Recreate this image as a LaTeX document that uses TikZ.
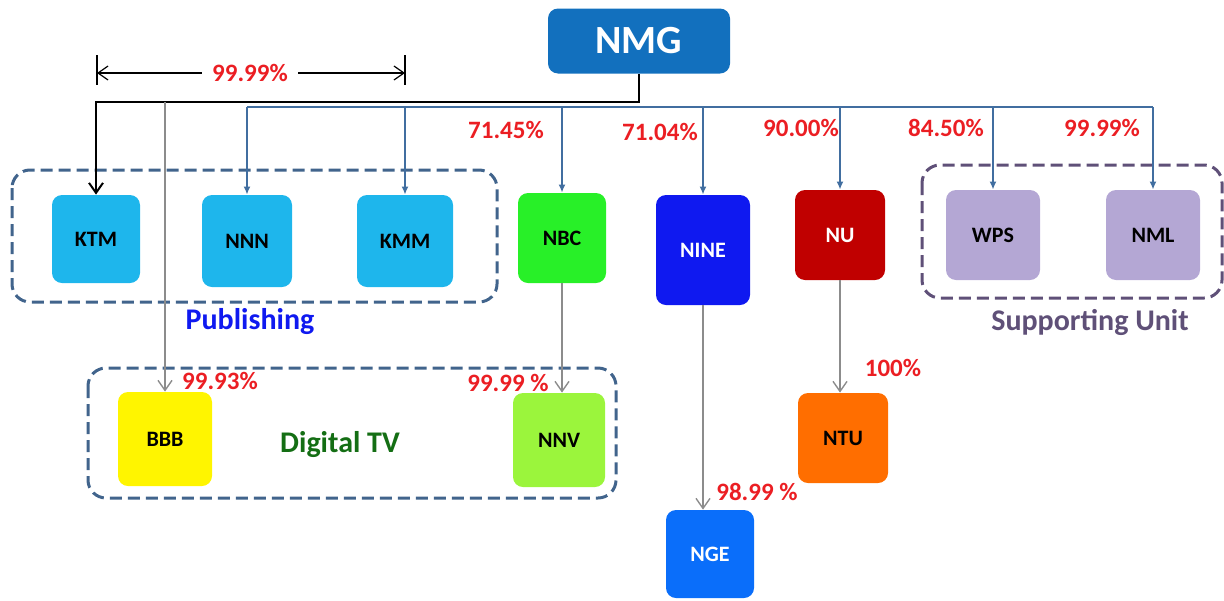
\documentclass[tikz,border=0pt]{standalone}
\usepackage{fontspec}
\setmainfont{Carlito}
\usepackage{tikz}
\usetikzlibrary{arrows.meta, calc}

\definecolor{nmgblue}{RGB}{18,112,190}
\definecolor{pubcyan}{RGB}{30,182,236}
\definecolor{nbcgreen}{RGB}{40,240,40}
\definecolor{nineblue}{RGB}{15,25,240}
\definecolor{nured}{RGB}{192,0,0}
\definecolor{lavender}{RGB}{180,167,212}
\definecolor{bbbyellow}{RGB}{255,245,0}
\definecolor{nnvgreen}{RGB}{155,245,60}
\definecolor{ngeblue}{RGB}{10,110,250}
\definecolor{ntuorange}{RGB}{255,110,0}
\definecolor{grpsteel}{RGB}{65,100,140}
\definecolor{grppurple}{RGB}{95,80,120}
\definecolor{pctred}{RGB}{235,30,35}
\definecolor{busblue}{RGB}{65,110,160}
\definecolor{linkgray}{RGB}{140,140,140}

\begin{document}
\begin{tikzpicture}[x=0.5pt, y=-0.5pt,
    unit/.style={rounded corners=5pt, inner sep=0pt, minimum width=45pt,
        minimum height=45pt, text=black, font=\fontsize{11}{11}\selectfont\bfseries},
    pct/.style={text=pctred, inner sep=0pt, font=\fontsize{12.5}{12.5}\selectfont\bfseries},
    grp/.style={draw, dashed, dash pattern=on 6pt off 3pt, line width=1.5pt, rounded corners=9pt},
    grplabel/.style={inner sep=0pt, font=\fontsize{15}{15}\selectfont\bfseries},
    blkarr/.style={draw=black, line width=1pt, -{Straight Barb[length=5pt, width=7pt]}},
    bluearr/.style={draw=busblue, line width=0.8pt, -{Latex[length=4pt, width=3.5pt]}},
    grayarr/.style={draw=linkgray, line width=0.7pt, -{Straight Barb[length=5pt, width=7pt]}},
    dimarr/.style={draw=black, line width=0.6pt, -{Straight Barb[length=5pt, width=7pt]}}]

    \useasboundingbox (0,0) rectangle (1224,600);

    % -------------------------------------------------------
    % 1. Group frames
    % -------------------------------------------------------
    \draw[grp, grpsteel] (12,170) rectangle (497,302);
    \draw[grp, grpsteel] (88,368) rectangle (616,498);
    \draw[grp, grppurple] (922,165) rectangle (1222,298);

    \node[grplabel, text=nineblue] (publbl) at (250,322) {Publishing};
    \node[grplabel, text={rgb,255:red,20;green,110;blue,20}] (dtvlbl) at (340,445) {Digital TV};
    \node[grplabel, text=grppurple] (suplbl) at (1090,322) {Supporting Unit};

    % -------------------------------------------------------
    % 2. Companies
    % -------------------------------------------------------
    \node[unit, fill=nmgblue, text=white, minimum width=91pt, minimum height=32.5pt,
        font=\fontsize{20}{20}\selectfont\bfseries] (nmg) at (639,41) {NMG};

    \node[unit, fill=pubcyan, minimum width=44pt, minimum height=44pt] (ktm) at (96,239) {KTM};
    \node[unit, fill=pubcyan, minimum height=46pt] (nnn) at (247,241) {NNN};
    \node[unit, fill=pubcyan, minimum width=48pt, minimum height=46pt] (kmm) at (405,241) {KMM};
    \node[unit, fill=nbcgreen, minimum width=44pt] (nbc) at (562,238) {NBC};
    \node[unit, fill=nineblue, text=white, minimum width=47pt, minimum height=55pt] (nine) at (703,250) {NINE};
    \node[unit, fill=nured, text=white] (nu) at (840,235) {NU};
    \node[unit, fill=lavender, minimum width=47pt] (wps) at (993,235) {WPS};
    \node[unit, fill=lavender, minimum width=47pt] (nml) at (1153,235) {NML};

    \node[unit, fill=bbbyellow, minimum width=47pt, minimum height=47pt] (bbb) at (165,439) {BBB};
    \node[unit, fill=nnvgreen, minimum width=46pt, minimum height=47pt] (nnv) at (559,440) {NNV};
    \node[unit, fill=ngeblue, text=white, minimum width=44pt, minimum height=44pt] (nge) at (710,554) {NGE};
    \node[unit, fill=ntuorange] (ntu) at (843,438) {NTU};

    % -------------------------------------------------------
    % 3. Ownership lines
    % -------------------------------------------------------
    \coordinate (blkbus) at (0,102);
    \coordinate (bluebus) at (0,107);

    \draw[blkarr] (nmg.south) -- (nmg.south |- blkbus) -| (ktm.north);
    \draw[draw=busblue, line width=0.8pt] (bluebus -| nnn.north) -- (bluebus -| nml.north);
    \foreach \u in {nnn, kmm, nbc, nine, nu, wps, nml} {
        \draw[bluearr] (bluebus -| \u.north) -- (\u.north);
    }

    \draw[grayarr] (bbb.north |- blkbus) -- (bbb.north);
    \draw[grayarr] (nbc.south) -- (nbc.south |- nnv.north);
    \draw[grayarr] (nine.south) -- (nine.south |- nge.north);
    \draw[grayarr] (nu.south) -- (nu.south |- ntu.north);

    % -------------------------------------------------------
    % 4. Shares
    % -------------------------------------------------------
    \node[pct] (pubpct) at (250,73) {99.99\%};
    \coordinate (dimL) at (97,73);
    \coordinate (dimR) at (405,73);
    \draw[black, line width=0.6pt] ($(dimL)+(0,-18)$) -- ($(dimL)+(0,12)$);
    \draw[black, line width=0.6pt] ($(dimR)+(0,-18)$) -- ($(dimR)+(0,12)$);
    \draw[dimarr] ([xshift=-5pt]pubpct.west) -- (dimL);
    \draw[dimarr] ([xshift=5pt]pubpct.east) -- (dimR);

    \node[pct] (nbcpct) at (506,130) {71.45\%};
    \node[pct] (ninepct) at (660,132) {71.04\%};
    \node[pct] (nupct) at (801,128) {90.00\%};
    \node[pct] (wpspct) at (946,128) {84.50\%};
    \node[pct] (nmlpct) at (1102,128) {99.99\%};
    \node[pct] (bbbpct) at (220,381) {99.93\%};
    \node[pct] (nnvpct) at (508,383) {99.99 \%};
    \node[pct] (ntupct) at (893,368) {100\%};
    \node[pct] (ngepct) at (757,492) {98.99 \%};
\end{tikzpicture}
\end{document}
